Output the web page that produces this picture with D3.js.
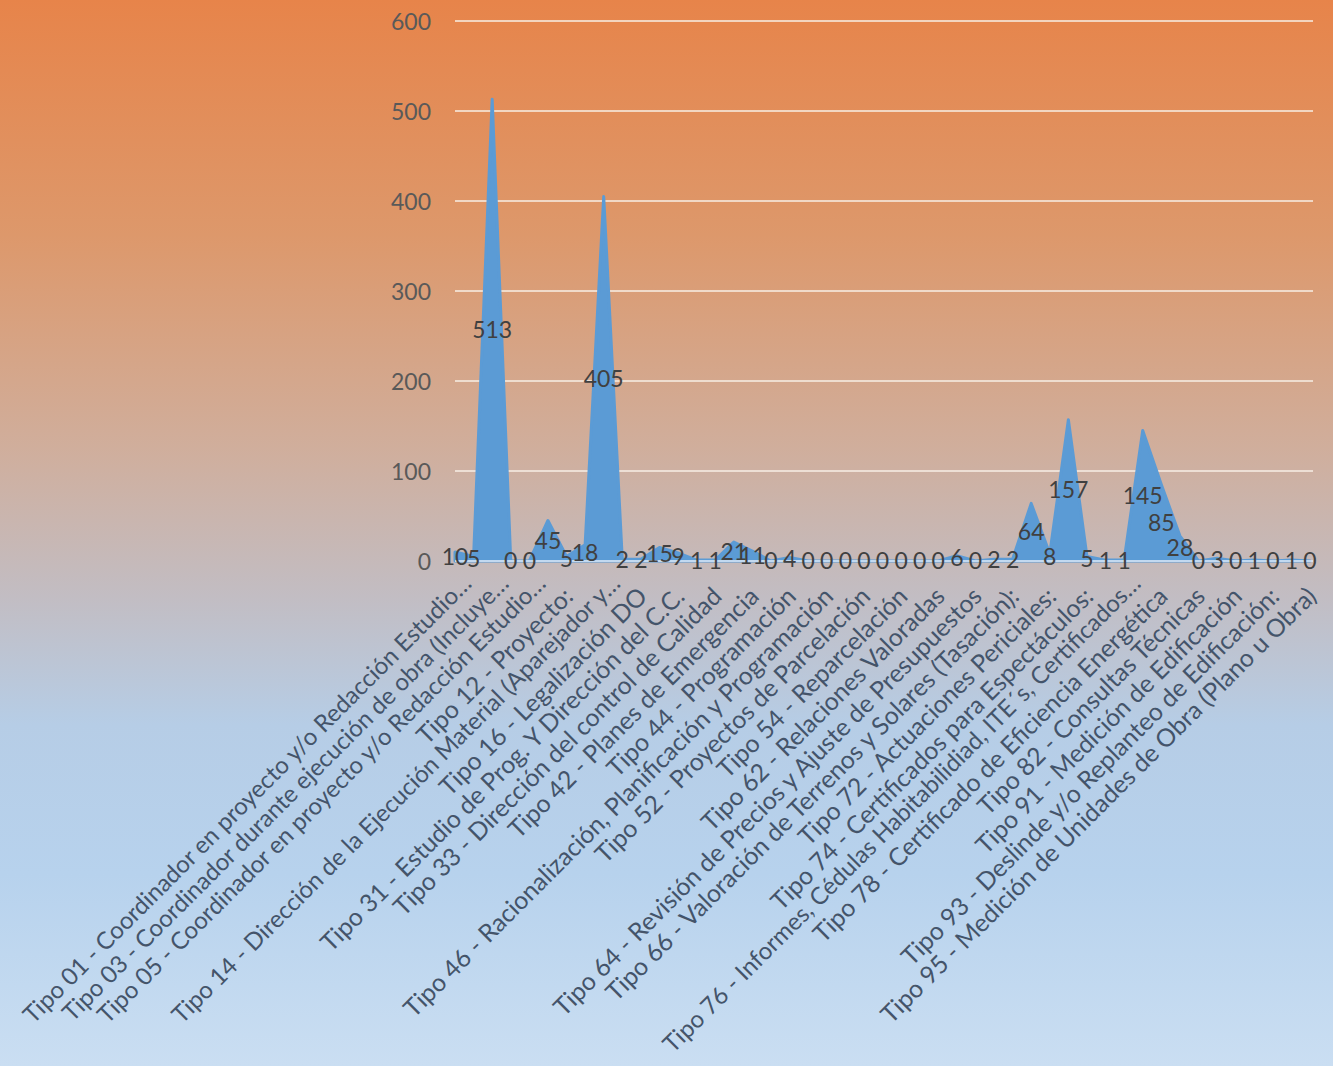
<!DOCTYPE html>
<html>
<head>
<meta charset="utf-8">
<script src="https://cdn.jsdelivr.net/npm/d3@7"></script>
<style>
  html, body { margin: 0; padding: 0; }
  svg { display: block; }
</style>
</head>
<body>
<svg id="chart" width="1333" height="1066"></svg>
<script>
const categories = [
  "Tipo 01 - Coordinador en proyecto y/o Redacción Estudio…",
  "Tipo 02",
  "Tipo 03 - Coordinador durante ejecución de obra (Incluye…",
  "Tipo 04",
  "Tipo 05 - Coordinador en proyecto y/o Redacción Estudio…",
  "Tipo 11",
  "Tipo 12 - Proyecto:",
  "Tipo 13",
  "Tipo 14 - Dirección de la Ejecución Material (Aparejador y…",
  "Tipo 15",
  "Tipo 16 - Legalización DO",
  "Tipo 21",
  "Tipo 31 - Estudio de Prog. Y Dirección del C.C.",
  "Tipo 32",
  "Tipo 33 - Dirección del control de Calidad",
  "Tipo 41",
  "Tipo 42 - Planes de Emergencia",
  "Tipo 43",
  "Tipo 44 - Programación",
  "Tipo 45",
  "Tipo 46 - Racionalización, Planificación y Programación",
  "Tipo 51",
  "Tipo 52 - Proyectos de Parcelación",
  "Tipo 53",
  "Tipo 54 - Reparcelación",
  "Tipo 61",
  "Tipo 62 - Relaciones Valoradas",
  "Tipo 63",
  "Tipo 64 - Revisión de Precios y Ajuste de Presupuestos",
  "Tipo 65",
  "Tipo 66 - Valoración de Terrenos y Solares (Tasación):",
  "Tipo 71",
  "Tipo 72 - Actuaciones Periciales:",
  "Tipo 73",
  "Tipo 74 - Certificados para Espectáculos:",
  "Tipo 75",
  "Tipo 76 - Informes, Cédulas Habitabilidiad, ITE´s, Certificados…",
  "Tipo 77",
  "Tipo 78 - Certificado de Eficiencia Energética",
  "Tipo 81",
  "Tipo 82 - Consultas Técnicas",
  "Tipo 84",
  "Tipo 91 - Medición de Edificación",
  "Tipo 92",
  "Tipo 93 - Deslinde y/o Replanteo de Edificación:",
  "Tipo 94",
  "Tipo 95 - Medición de Unidades de Obra (Plano u Obra)"
];
const values = [
  10, 5, 513, 0, 0, 45, 5, 18, 405, 2,
  2, 15, 9, 1, 1, 21, 11, 0, 4, 0,
  0, 0, 0, 0, 0, 0, 0, 6, 0, 2,
  2, 64, 8, 157, 5, 1, 1, 145, 85, 28,
  0, 3, 0, 1, 0, 1, 0
];
const yTicks = [0, 100, 200, 300, 400, 500, 600];

const W = 1333, H = 1066;
const svg = d3.select("#chart");
const FONT = "Lato, 'Open Sans', sans-serif";

// background gradient
const defs = svg.append("defs");
const grad = defs.append("linearGradient").attr("id", "bg")
  .attr("x1", 0).attr("y1", 0).attr("x2", 0).attr("y2", 1);
[[0, "#E7844A"], [0.22, "#DD986B"], [0.42, "#D0AE9C"], [0.56, "#C2BDC3"],
 [0.68, "#B6CDE6"], [0.82, "#B7D2ED"], [1, "#CADEF2"]].forEach(([o, c]) =>
  grad.append("stop").attr("offset", o).attr("stop-color", c));
svg.append("rect").attr("width", W).attr("height", H).attr("fill", "url(#bg)");

const plotLeft = 455, plotRight = 1313, plotTop = 21, plotBottom = 561;
const x = d3.scalePoint().domain(d3.range(categories.length)).range([plotLeft, 1310]);
const y = d3.scaleLinear().domain([0, 600]).range([plotBottom, plotTop]);

// gridlines
svg.append("g").selectAll("line").data(yTicks.filter(t => t > 0)).join("line")
  .attr("x1", plotLeft).attr("x2", plotRight)
  .attr("y1", d => y(d)).attr("y2", d => y(d))
  .attr("stroke", "#F7EFE6").attr("stroke-width", 1.6);

// area
const area = d3.area().x((d, i) => x(i)).y0(y(0)).y1(d => y(d));
svg.append("path").datum(values).attr("d", area)
  .attr("fill", "#5B9BD5").attr("stroke", "#5B9BD5").attr("stroke-width", 3)
  .attr("stroke-linejoin", "round");

// horizontal axis line
svg.append("line").attr("x1", plotLeft).attr("x2", plotRight)
  .attr("y1", y(0)).attr("y2", y(0))
  .attr("stroke", "#E4EEF8").attr("stroke-width", 1.5);

// y axis labels
const yAxis = d3.axisLeft(y).tickValues(yTicks).tickSize(0).tickPadding(0);
const gy = svg.append("g").attr("transform", `translate(431,0)`).call(yAxis);
gy.select(".domain").remove();
gy.selectAll("text").attr("font-family", FONT).attr("font-size", 23)
  .attr("fill", "#595959").attr("dy", "0.35em");

// category labels (every other one shown)
const gx = svg.append("g");
categories.forEach((c, i) => {
  if (i % 2 !== 0) return;
  const trunc = c.endsWith("…");
  const dx = trunc ? 18 : 8, yy = trunc ? 585 : 598;
  gx.append("text")
    .attr("transform", `translate(${x(i) + dx},${yy}) rotate(-45)`)
    .attr("text-anchor", "end")
    .attr("font-family", FONT).attr("font-size", trunc ? 24 : 24.8)
    .attr("fill", "#44546A")
    .text(c);
});

// data labels
svg.append("g").selectAll("text").data(values).join("text")
  .attr("x", (d, i) => x(i))
  .attr("y", d => (y(0) + y(d)) / 2)
  .attr("dy", "0.35em")
  .attr("text-anchor", "middle")
  .attr("font-family", FONT).attr("font-size", 23)
  .attr("fill", "#404040")
  .text(d => d);
</script>
</body>
</html>
